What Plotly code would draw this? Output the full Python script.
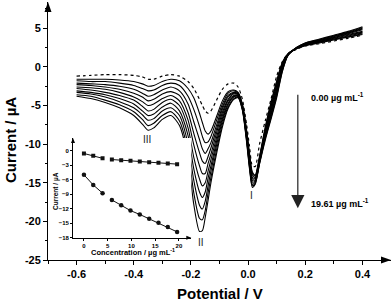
import plotly.graph_objects as go

# ---------------- data ----------------
potential = [-0.60, -0.55, -0.50, -0.45, -0.40, -0.37, -0.35, -0.33, -0.30, -0.27,
             -0.24, -0.21, -0.19, -0.17, -0.16, -0.15, -0.14, -0.13, -0.11, -0.09,
             -0.07, -0.05, -0.035, -0.02, -0.005, 0.005, 0.015, 0.025, 0.04, 0.06,
             0.08, 0.10, 0.12, 0.14, 0.17, 0.20, 0.25, 0.30, 0.35, 0.40]

i_00 = [-1.2, -1.1, -1.0, -1.0, -1.1, -1.3, -1.6, -1.6, -1.2, -1.0, -1.2, -1.9, -2.8, -4.2, -5.0, -5.7, -6.0, -5.7, -4.3, -2.9,
        -2.2, -2.1, -2.6, -4.2, -7.5, -10.3, -12.8, -12.9, -10.0, -7.0, -4.2, -1.2, 0.7, 1.7, 2.3, 2.7, 3.0, 3.35, 3.7, 4.1]
i_01 = [-1.6, -1.6, -1.6, -1.7, -1.9, -2.2, -2.5, -2.4, -1.9, -1.6, -1.8, -2.8, -4.0, -6.0, -7.2, -8.3, -8.7, -8.3, -6.4, -4.4,
        -3.2, -3.0, -3.3, -4.8, -8.2, -11.2, -13.6, -14.0, -11.6, -7.8, -4.6, -1.8, 0.6, 1.7, 2.35, 2.75, 3.1, 3.5, 3.85, 4.2]
i_02 = [-1.8, -1.9, -1.9, -2.1, -2.4, -2.8, -3.1, -3.0, -2.4, -2.1, -2.4, -3.8, -5.5, -7.7, -9.0, -9.8, -9.7, -9.0, -6.9, -4.8,
        -3.4, -3.1, -3.4, -4.9, -8.4, -11.4, -13.8, -14.1, -11.7, -8.0, -4.8, -2.0, 0.5, 1.7, 2.4, 2.8, 3.2, 3.6, 3.9, 4.3]
i_03 = [-2.1, -2.2, -2.3, -2.5, -2.9, -3.4, -3.8, -3.6, -3.0, -2.6, -3.1, -4.8, -7.1, -9.4, -10.6, -11.2, -10.6, -9.8, -7.5, -5.2,
        -3.7, -3.3, -3.5, -5.0, -8.6, -11.7, -14.0, -14.3, -11.8, -8.2, -5.1, -2.3, 0.3, 1.7, 2.4, 2.8, 3.2, 3.6, 4.0, 4.4]
i_04 = [-2.3, -2.4, -2.6, -2.9, -3.4, -3.9, -4.4, -4.2, -3.5, -3.2, -3.7, -5.9, -8.6, -11.1, -12.2, -12.5, -11.6, -10.5, -8.0, -5.5,
        -3.9, -3.4, -3.5, -5.1, -8.7, -11.9, -14.3, -14.4, -11.9, -8.4, -5.3, -2.5, 0.2, 1.6, 2.4, 2.9, 3.3, 3.7, 4.1, 4.5]
i_05 = [-2.6, -2.7, -2.9, -3.3, -3.9, -4.5, -5.0, -4.8, -4.1, -3.7, -4.4, -6.9, -10.1, -12.8, -13.8, -13.8, -12.5, -11.3, -8.5, -5.9,
        -4.2, -3.5, -3.6, -5.2, -8.9, -12.1, -14.5, -14.5, -12.0, -8.6, -5.6, -2.8, 0.1, 1.6, 2.4, 2.9, 3.3, 3.8, 4.2, 4.6]
i_06 = [-2.8, -3.0, -3.3, -3.7, -4.3, -5.1, -5.7, -5.5, -4.6, -4.2, -5.0, -7.9, -11.7, -14.5, -15.4, -15.0, -13.5, -12.0, -9.1, -6.3,
        -4.4, -3.7, -3.7, -5.2, -9.1, -12.3, -14.7, -14.7, -12.2, -8.7, -5.8, -3.0, -0.1, 1.6, 2.4, 2.9, 3.4, 3.8, 4.3, 4.8]
i_07 = [-3.1, -3.3, -3.6, -4.1, -4.8, -5.7, -6.3, -6.1, -5.2, -4.7, -5.7, -8.9, -13.2, -16.2, -16.9, -16.2, -14.4, -12.8, -9.6, -6.7,
        -4.7, -3.8, -3.8, -5.3, -9.3, -12.6, -14.9, -14.8, -12.3, -8.9, -6.1, -3.3, -0.2, 1.6, 2.5, 3.0, 3.4, 3.9, 4.4, 4.9]
i_08 = [-3.3, -3.5, -3.9, -4.5, -5.3, -6.2, -6.9, -6.7, -5.7, -5.3, -6.3, -10.0, -14.7, -17.9, -18.4, -17.4, -15.4, -13.5, -10.1, -7.0,
        -4.9, -3.9, -3.8, -5.4, -9.4, -12.8, -15.2, -14.9, -12.4, -9.1, -6.3, -3.5, -0.3, 1.5, 2.5, 3.0, 3.5, 4.0, 4.4, 5.0]
i_09 = [-3.6, -3.8, -4.3, -4.9, -5.8, -6.8, -7.6, -7.3, -6.3, -5.8, -7.0, -11.0, -16.3, -19.6, -19.8, -18.6, -16.3, -14.3, -10.7, -7.4,
        -5.2, -4.1, -3.9, -5.5, -9.6, -13.0, -15.4, -15.1, -12.5, -9.3, -6.6, -3.8, -0.5, 1.5, 2.5, 3.1, 3.5, 4.0, 4.5, 5.1]
i_10 = [-3.8, -4.1, -4.6, -5.3, -6.3, -7.4, -8.2, -7.9, -6.8, -6.3, -7.6, -12.0, -17.8, -21.3, -21.2, -19.5, -17.3, -15.0, -11.2, -7.8,
        -5.4, -4.2, -4.0, -5.6, -9.8, -13.2, -15.6, -15.2, -12.6, -9.5, -6.8, -4.0, -0.6, 1.5, 2.5, 3.1, 3.6, 4.1, 4.6, 5.2]
curves = [i_00, i_01, i_02, i_03, i_04, i_05, i_06, i_07, i_08, i_09, i_10]

# inset: peak currents vs concentration
concentration = [0.00, 1.96, 3.92, 5.88, 7.84, 9.80, 11.76, 13.73, 15.69, 17.65, 19.61]
peak_I = [-0.6, -1.05, -1.6, -1.85, -2.0, -2.1, -2.25, -2.4, -2.5, -2.65, -2.8]
peak_II = [-5.0, -7.1, -8.8, -10.2, -11.3, -12.4, -13.2, -14.1, -14.9, -15.8, -16.8]
n_first = 3  # linear range break

x_ticks = [-0.6, -0.4, -0.2, 0.0, 0.2, 0.4]
x_labels = ["-0.6", "-0.4", "-0.2", "0.0", "0.2", "0.4"]
y_ticks = [5, 0, -5, -10, -15, -20, -25]
y_labels = ["5", "0", "-5", "-10", "-15", "-20", "-25"]
ins_x_ticks = [0, 5, 10, 15, 20]
ins_y_ticks = [0, -3, -6, -9, -12, -15, -18]

# ---------------- figure ----------------
W, H = 392, 301
ML, MR, MT, MB = 48, 1, 2, 41
PW, PH = W - ML - MR, H - MT - MB
FONT = "Liberation Sans, Arial, sans-serif"

fig = go.Figure()
for k, cur in enumerate(curves):
    fig.add_trace(go.Scatter(
        x=potential, y=cur, mode="lines",
        line=dict(color="black", width=1.1 if k else 1.2, dash="dot" if k == 0 else "solid",
                  shape="spline", smoothing=0.7),
        showlegend=False, hoverinfo="skip"))

# inset series (two linear segments, gap between)
def seg(xs, ys):
    return xs[:n_first] + [None] + xs[n_first:], ys[:n_first] + [None] + ys[n_first:]

xa, ya = seg(concentration, peak_I)
fig.add_trace(go.Scatter(x=xa, y=ya, mode="lines+markers", xaxis="x2", yaxis="y2",
                         line=dict(color="#111", width=1), marker=dict(symbol="square", size=4, color="#111"),
                         showlegend=False, connectgaps=False))
xb, yb = seg(concentration, peak_II)
fig.add_trace(go.Scatter(x=xb, y=yb, mode="lines+markers", xaxis="x2", yaxis="y2",
                         line=dict(color="#111", width=1), marker=dict(symbol="circle", size=4.5, color="#111"),
                         showlegend=False, connectgaps=False))

tick_font = dict(family=FONT, size=11, color="black", weight="bold")
small_font = dict(family=FONT, size=6, color="black", weight="bold")

fig.update_layout(
    width=W, height=H, margin=dict(l=ML, r=MR, t=MT, b=MB, autoexpand=False),
    paper_bgcolor="white", plot_bgcolor="white",
    xaxis=dict(range=[-0.7, 0.5], tickmode="array", tickvals=x_ticks, ticktext=x_labels,
               ticks="outside", ticklen=4, tickwidth=1, tickcolor="black",
               showline=True, linecolor="black", linewidth=1, showgrid=False, zeroline=False,
               tickfont=tick_font,
               minor=dict(tickmode="array", tickvals=[-0.7, -0.5, -0.3, -0.1, 0.1, 0.3],
                          ticks="outside", ticklen=2.5, tickcolor="black")),
    yaxis=dict(range=[-25, 8.4], tickmode="array", tickvals=y_ticks, ticktext=y_labels,
               ticks="outside", ticklen=4, tickwidth=1, tickcolor="black",
               showline=True, linecolor="black", linewidth=1, showgrid=False, zeroline=False,
               tickfont=tick_font,
               minor=dict(tickmode="array", tickvals=[7.5, 2.5, -2.5, -7.5, -12.5, -17.5, -22.5],
                          ticks="outside", ticklen=2.5, tickcolor="black")),
    xaxis2=dict(domain=[0.0729, 0.4178], anchor="y2", range=[-2.3, 22.6],
                tickmode="array", tickvals=ins_x_ticks, ticks="outside", ticklen=2, tickcolor="black",
                showline=True, linecolor="black", linewidth=0.8, showgrid=False, zeroline=False,
                tickfont=small_font),
    yaxis2=dict(domain=[0.0864, 0.4729], anchor="x2", range=[-18, 2.6],
                tickmode="array", tickvals=ins_y_ticks, ticks="outside", ticklen=2, tickcolor="black",
                showline=True, linecolor="black", linewidth=0.8, showgrid=False, zeroline=False,
                tickfont=small_font),
)

# arrow heads on axes (paper coordinates)
def tri_up(x0, y0, w_px, h_px):
    dx, dy = w_px / 2 / PW, h_px / PH
    return f"M {x0},{y0} L {x0 - dx},{y0 - dy} L {x0 + dx},{y0 - dy} Z"

def tri_right(x0, y0, w_px, h_px):
    dx, dy = h_px / PW, w_px / 2 / PH
    return f"M {x0},{y0} L {x0 - dx},{y0 - dy} L {x0 - dx},{y0 + dy} Z"

shapes = [
    dict(type="path", path=tri_up(0, 1, 7, 10), xref="paper", yref="paper", fillcolor="black", line=dict(width=0)),
    dict(type="path", path=tri_right(1, 0, 7, 10), xref="paper", yref="paper", fillcolor="black", line=dict(width=0)),
    dict(type="path", path=tri_up(0.0729, 0.4729, 4, 5), xref="paper", yref="paper", fillcolor="black", line=dict(width=0)),
    dict(type="path", path=tri_right(0.4178, 0.0864, 4, 5), xref="paper", yref="paper", fillcolor="black", line=dict(width=0)),
]
fig.update_layout(shapes=shapes)

ann = []
ann.append(dict(text="Current / µA", xref="paper", yref="paper", x=0, xshift=-38, y=0.465,
                textangle=-90, showarrow=False, font=dict(family=FONT, size=15, weight="bold", color="black"),
                xanchor="center", yanchor="middle"))
ann.append(dict(text="Potential / V", xref="paper", yref="paper", x=0.5, y=0, yshift=-33,
                showarrow=False, font=dict(family=FONT, size=15, weight="bold", color="black"),
                xanchor="center", yanchor="middle"))
ann.append(dict(text="Concentration / µg mL<sup>-1</sup>", xref="paper", yref="paper", x=0.248, y=0.030,
                showarrow=False, font=dict(family=FONT, size=7.5, weight="bold", color="black"),
                xanchor="center", yanchor="middle"))
ann.append(dict(text="Current / µA", xref="paper", yref="paper", x=0.0233, y=0.2674, textangle=-90,
                showarrow=False, font=dict(family=FONT, size=6.5, weight="bold", color="black"),
                xanchor="center", yanchor="middle"))
peak_font = dict(family=FONT, size=10, color="#222")
for txt, px, py in [("III", -0.352, -9.4), ("II", -0.163, -22.7), ("I", 0.013, -16.7)]:
    ann.append(dict(text=txt, x=px, y=py, xref="x", yref="y", showarrow=False, font=peak_font,
                    xanchor="center", yanchor="middle"))
# concentration arrow
ann.append(dict(x=0.174, y=-18.3, ax=0.174, ay=-3.4, xref="x", yref="y", axref="x", ayref="y",
                text="", showarrow=True, arrowhead=2, arrowsize=2.2, arrowwidth=1.2, arrowcolor="#222"))
lab_font = dict(family=FONT, size=9, weight="bold", color="black")
ann.append(dict(text="0.00 µg mL<sup>-1</sup>", x=0.213, y=-3.96, xref="x", yref="y", showarrow=False,
                font=lab_font, xanchor="left", yanchor="middle"))
ann.append(dict(text="19.61 µg mL<sup>-1</sup>", x=0.213, y=-17.6, xref="x", yref="y", showarrow=False,
                font=lab_font, xanchor="left", yanchor="middle"))
fig.update_layout(annotations=ann)

fig.write_html("out.html", config={"displayModeBar": False},
               post_script="document.body.style.margin='0';document.body.style.overflow='hidden';")
